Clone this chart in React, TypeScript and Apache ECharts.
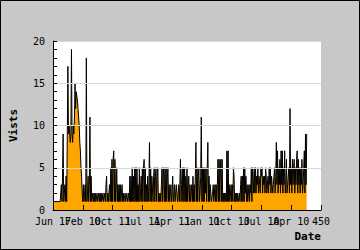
import React, { useEffect, useRef } from "react";
import * as echarts from "echarts";

const xTickLabels = ["Jun 17", "Feb 10", "Oct 11", "Jul 11", "Apr 11", "Jan 11", "Oct 10", "Jul 10", "Apr 10", "450"];
const xTickStep = 50;
const yTickValues = [0, 5, 10, 15, 20];

const visits = [
  1, 1, 1, 1, 1, 1, 1, 1, 1, 1,
  1, 1, 1, 1, 3, 1, 4, 9, 1, 1,
  3, 1, 4, 1, 9, 17, 9, 10, 9, 8,
  9, 19, 9, 8, 10, 9, 11, 15, 12, 14,
  14, 13, 12, 11, 10, 8, 7, 5, 4, 2,
  1, 3, 1, 1, 3, 1, 18, 1, 2, 4,
  1, 3, 11, 1, 4, 1, 1, 2, 1, 2,
  1, 2, 1, 1, 2, 1, 1, 2, 1, 2,
  1, 2, 1, 1, 2, 1, 1, 2, 1, 3,
  4, 1, 2, 1, 1, 3, 1, 5, 1, 6,
  1, 6, 7, 1, 6, 1, 1, 5, 1, 3,
  1, 3, 1, 3, 1, 2, 3, 1, 2, 1,
  1, 2, 1, 1, 2, 1, 1, 2, 1, 4,
  1, 4, 1, 5, 1, 4, 1, 5, 1, 5,
  1, 5, 1, 3, 1, 5, 1, 2, 4, 1,
  5, 1, 5, 6, 1, 5, 1, 3, 1, 4,
  1, 3, 8, 1, 5, 1, 4, 4, 1, 4,
  5, 1, 4, 5, 1, 4, 5, 1, 2, 1,
  2, 1, 3, 5, 1, 5, 4, 1, 5, 1,
  5, 1, 4, 5, 1, 3, 1, 2, 3, 1,
  2, 4, 1, 1, 3, 1, 1, 3, 2, 1,
  2, 3, 1, 3, 6, 1, 3, 5, 1, 5,
  1, 5, 1, 4, 1, 5, 1, 3, 4, 1,
  3, 1, 2, 3, 1, 4, 1, 3, 1, 4,
  8, 1, 5, 1, 4, 5, 1, 2, 4, 11,
  1, 5, 1, 5, 1, 5, 2, 5, 1, 5,
  8, 1, 4, 1, 3, 2, 1, 1, 2, 3,
  1, 1, 3, 1, 3, 1, 3, 6, 1, 6,
  1, 5, 6, 1, 6, 1, 2, 1, 2, 1,
  2, 1, 7, 1, 7, 1, 3, 1, 1, 3,
  1, 3, 1, 5, 4, 1, 2, 1, 2, 1,
  2, 1, 1, 2, 1, 3, 4, 1, 4, 1,
  5, 1, 5, 2, 4, 1, 3, 1, 1, 3,
  1, 3, 2, 5, 1, 5, 4, 2, 5, 2,
  5, 2, 4, 3, 5, 2, 4, 3, 2, 5,
  4, 5, 2, 4, 3, 4, 2, 5, 4, 2,
  3, 4, 2, 5, 3, 5, 2, 4, 3, 2,
  3, 4, 5, 2, 4, 8, 3, 7, 2, 5,
  3, 6, 2, 7, 3, 7, 2, 5, 3, 7,
  2, 3, 6, 2, 3, 4, 5, 2, 12, 3,
  5, 2, 6, 3, 5, 6, 2, 5, 3, 6,
  7, 2, 6, 3, 5, 2, 5, 3, 6, 2,
  3, 5, 7, 2, 9, 3, 9,
];

const FONT = '"DejaVu Sans Mono", "Liberation Mono", monospace';

export default function App() {
  const ref = useRef<HTMLDivElement>(null);
  useEffect(() => {
    if (!ref.current) return;
    const chart = echarts.init(ref.current, undefined, { renderer: "svg" });
    chart.setOption({
      animation: false,
      backgroundColor: "#c8c8c8",
      grid: {
        left: 40,
        right: 39,
        top: 41,
        bottom: 40,
        show: true,
        backgroundColor: "#ffffff",
        borderWidth: 0,
      },
      xAxis: {
        type: "value",
        min: 0,
        max: 450,
        interval: xTickStep,
        z: 5,
        axisLine: { show: true, onZero: false, lineStyle: { color: "#000", width: 1 } },
        axisTick: { show: true, inside: true, length: 5, lineStyle: { color: "#000" } },
        splitLine: { show: false },
        axisLabel: { show: false },
      },
      yAxis: {
        type: "value",
        min: yTickValues[0],
        max: yTickValues[yTickValues.length - 1],
        interval: 5,
        z: 5,
        name: "Vists",
        nameLocation: "middle",
        nameRotate: 90,
        nameGap: 34,
        nameTextStyle: { color: "#000", fontSize: 11, fontWeight: "bold", fontFamily: FONT },
        axisLine: { show: true, lineStyle: { color: "#000", width: 1 } },
        axisTick: { show: true, inside: true, length: 4, lineStyle: { color: "#000" } },
        minorTick: { show: true, splitNumber: 5, length: 4, lineStyle: { color: "#000" } },
        splitLine: { show: true, lineStyle: { color: "#d8d8d8", width: 1 } },
        axisLabel: { margin: 8, color: "#000", fontSize: 10, fontFamily: FONT },
      },
      series: [
        {
          name: "Visits",
          type: "line",
          data: visits.map((v, i) => [i, v]),
          showSymbol: false,
          symbol: "none",
          lineStyle: { color: "#000", width: 1 },
          areaStyle: { color: "#ffa500", opacity: 1 },
          z: 2,
        },
      ],
    });

    const y0 = chart.convertToPixel({ yAxisIndex: 0 }, 0) as number;
    const xEnd = chart.convertToPixel({ xAxisIndex: 0 }, 450) as number;
    const labelGraphics = xTickLabels.map((label, k) => ({
      type: "text",
      silent: true,
      z: 50,
      style: {
        text: label,
        x: chart.convertToPixel({ xAxisIndex: 0 }, k * xTickStep) as number,
        y: y0 + 6,
        align: "center",
        verticalAlign: "top",
        fill: "#000",
        font: `10px ${FONT}`,
      },
    }));

    chart.setOption({
      graphic: [
        {
          type: "rect",
          shape: { x: 0.5, y: 0.5, width: 359, height: 249 },
          style: { fill: "none", stroke: "#000", lineWidth: 1 },
          silent: true,
          z: 100,
        },
        {
          type: "text",
          silent: true,
          style: {
            text: "Date",
            x: xEnd,
            y: y0 + 26,
            align: "right",
            verticalAlign: "middle",
            fill: "#000",
            font: `bold 11px ${FONT}`,
          },
        },
        ...labelGraphics,
      ],
    });
    return () => chart.dispose();
  }, []);
  return <div ref={ref} style={{ position: "fixed", left: 0, top: 0, width: 360, height: 250 }} />;
}
